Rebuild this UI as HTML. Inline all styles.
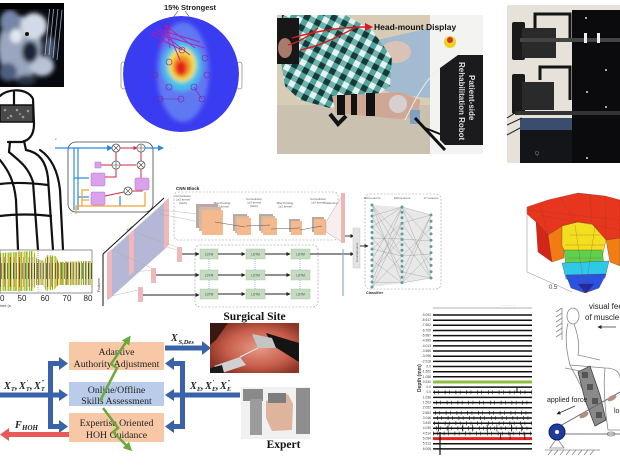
<!DOCTYPE html>
<html><head><meta charset="utf-8">
<style>
html,body{margin:0;padding:0;background:#fff;width:620px;height:465px;overflow:hidden;}
svg{display:block;}
</style></head><body>
<svg width="620" height="465" viewBox="0 0 620 465" xmlns="http://www.w3.org/2000/svg" font-family="Liberation Sans, sans-serif">
<defs>
 <filter id="b1" x="-20%" y="-20%" width="140%" height="140%"><feGaussianBlur stdDeviation="2"/></filter>
 <filter id="b2" x="-20%" y="-20%" width="140%" height="140%"><feGaussianBlur stdDeviation="2"/></filter>
 <pattern id="check" width="12" height="12" patternUnits="userSpaceOnUse" patternTransform="rotate(28)">
   <rect width="12" height="12" fill="#e9f1ef"/>
   <rect width="6" height="12" fill="#2c928c" opacity="0.8"/>
   <rect width="12" height="6" fill="#2c928c" opacity="0.65"/>
   <rect width="6" height="6" fill="#163a38"/>
 </pattern>
 <clipPath id="eegclip"><circle cx="181" cy="74" r="58"/></clipPath>
 <clipPath id="sigclip"><polygon points="0,253 34,251 37,259 44,261 47,255 56,256 58,262 92,261 92,285 58,285 55,289 46,291 43,285 36,285 33,291 0,291"/></clipPath>
 <clipPath id="brainclip"><rect x="0" y="3" width="64" height="84"/></clipPath>
 <clipPath id="surgclip"><rect x="210" y="323" width="89" height="50"/></clipPath>
 <radialGradient id="surgG" cx="0.55" cy="0.5" r="0.6"><stop offset="0" stop-color="#e69a88"/><stop offset="0.6" stop-color="#c8604c"/><stop offset="1" stop-color="#8a3326"/></radialGradient>
 <marker id="ah" markerWidth="4" markerHeight="4" refX="3.5" refY="2" orient="auto" markerUnits="userSpaceOnUse"><path d="M0,0 L4,2 L0,4 z" fill="#222"/></marker>
 <marker id="ahb" markerWidth="6" markerHeight="6" refX="5" refY="3" orient="auto" markerUnits="userSpaceOnUse"><path d="M0,0 L6,3 L0,6 z" fill="#2a8ae0"/></marker>
 <marker id="ahr" markerWidth="4" markerHeight="4" refX="3.5" refY="2" orient="auto" markerUnits="userSpaceOnUse"><path d="M0,0 L4,2 L0,4 z" fill="#d02838"/></marker>
 <marker id="ahg" markerWidth="9" markerHeight="9" refX="6" refY="4.5" orient="auto" markerUnits="userSpaceOnUse"><path d="M0,0 L9,4.5 L0,9 z" fill="#6aaa3a"/></marker>
</defs>

<rect width="620" height="465" fill="#fff"/>

<!-- ===== Brain MRI (top-left) ===== -->
<g clip-path="url(#brainclip)">
 <rect x="0" y="3" width="64" height="84" fill="#07090e"/>
 <g filter="url(#b1)">
  <ellipse cx="20" cy="48" rx="22" ry="32" fill="#9aa6bd"/>
  <ellipse cx="34" cy="26" rx="13" ry="13" fill="#d3dae7"/>
  <ellipse cx="10" cy="22" rx="10" ry="12" fill="#7586a8"/>
  <ellipse cx="42" cy="66" rx="12" ry="10" fill="#b9c3d6"/>
  <ellipse cx="30" cy="52" rx="8" ry="11" fill="#1f2838"/>
  <ellipse cx="8" cy="72" rx="9" ry="9" fill="#4d5f80"/>
  <ellipse cx="16" cy="36" rx="6" ry="7" fill="#e3e8f0"/>
  <ellipse cx="50" cy="48" rx="5" ry="12" fill="#4a5a78"/>
  <ellipse cx="26" cy="80" rx="10" ry="5" fill="#2a3448"/>
 </g>
 <circle cx="27" cy="34" r="2" fill="#111"/>
 <g stroke="#c8d2e4" stroke-width="0.8" opacity="0.8">
  <line x1="50" y1="5" x2="45" y2="55"/><line x1="54" y1="5" x2="49" y2="55"/><line x1="58" y1="8" x2="53" y2="58"/><line x1="62" y1="10" x2="57" y2="60"/>
 </g>
 <rect x="0" y="3" width="64" height="6" fill="#000"/>
</g>

<!-- ===== EEG topoplot ===== -->
<text x="190" y="10" font-size="7.5" font-weight="bold" text-anchor="middle" fill="#222">15% Strongest</text>
<line x1="178" y1="11" x2="172" y2="19" stroke="#444" stroke-width="0.6"/>
<line x1="185" y1="11" x2="191" y2="19" stroke="#444" stroke-width="0.6"/>
<rect x="121" y="62" width="5" height="27" rx="2.5" fill="none" stroke="#888" stroke-width="0.7"/>
<rect x="237" y="62" width="5" height="27" rx="2.5" fill="none" stroke="#888" stroke-width="0.7"/>
<g clip-path="url(#eegclip)">
 <circle cx="181" cy="74" r="58" fill="#3a3cf2"/>
 <g filter="url(#b2)">
  <ellipse cx="183" cy="72" rx="26" ry="50" fill="#6078f2"/>
  <ellipse cx="182" cy="66" rx="20" ry="25" fill="#45c0ea"/>
  <ellipse cx="182" cy="65" rx="14" ry="17" fill="#f3e844"/>
  <ellipse cx="182" cy="66" rx="10" ry="12" fill="#f59a2e"/>
  <ellipse cx="181" cy="68" rx="6" ry="8" fill="#e41c1c"/>
 </g>
 <g stroke="#b01cb0" stroke-width="1" fill="none" opacity="0.9">
  <path d="M165,25 L195,48"/><path d="M165,25 L180,60"/><path d="M152,32 L205,48"/><path d="M150,34 L182,50"/>
  <path d="M166,25 L170,48"/><path d="M172,24 L158,48"/><path d="M160,30 L200,42"/><path d="M155,28 L190,55"/>
 </g>
 <g stroke="#7a22a0" stroke-width="0.6" fill="none">
  <circle cx="166" cy="26" r="3"/><circle cx="182" cy="50" r="3"/><circle cx="169" cy="62" r="3"/>
  <circle cx="205" cy="58" r="3"/><circle cx="169" cy="87" r="3"/><circle cx="194" cy="87" r="3"/>
  <circle cx="160" cy="99" r="3"/><circle cx="181" cy="99" r="3"/><circle cx="202" cy="99" r="3"/>
  <circle cx="207" cy="75" r="3"/><circle cx="155" cy="75" r="3"/>
  <path d="M194,87 L202,99 M181,99 L160,99"/>
 </g>
</g>

<!-- ===== Head drawing ===== -->
<g stroke="#111" stroke-width="2.2" fill="none" stroke-linecap="round">
 <path d="M0,96 C8,88 28,88 33,99 L34,124 C34,134 30,140 22,142 L8,142" fill="#fff"/>
 <path d="M14,92 L14,105"/>
 <path d="M10,142 L9,152"/>
 <path d="M24,141 L26,150 C38,152 46,160 48,178 L53,250"/>
 <path d="M9,152 C18,160 28,166 33,182 L38,250"/>
 <path d="M0,160 C8,170 14,180 16,200 L18,250"/>
 <path d="M0,184 C15,182 32,183 48,185"/>
 <path d="M0,216 C15,214 35,214 51,216"/>
 <path d="M40,150 C52,158 58,172 60,190 L63,250"/>
</g>
<rect x="0" y="105" width="33" height="17" fill="#4a4a4a" stroke="#111" stroke-width="1.5"/>
<g fill="#9a9a9a"><circle cx="5" cy="110" r="1.3"/><circle cx="11" cy="116" r="1.3"/><circle cx="17" cy="110" r="1.3"/><circle cx="23" cy="117" r="1.3"/><circle cx="28" cy="111" r="1.3"/><circle cx="8" cy="118" r="1"/><circle cx="20" cy="114" r="1"/></g>

<!-- ===== LSTM cell ===== -->
<text x="55" y="140" font-size="3" fill="#333">c</text>
<rect x="68" y="142" width="85" height="70" rx="8" fill="#fff" stroke="#444" stroke-width="0.8"/>
<line x1="55" y1="148" x2="112" y2="148" stroke="#2a8ae0" stroke-width="1.3" marker-end="url(#ahb)"/>
<line x1="145" y1="148" x2="163" y2="148" stroke="#2a8ae0" stroke-width="1.3" marker-end="url(#ahb)"/>
<line x1="120" y1="148" x2="137" y2="148" stroke="#d02838" stroke-width="1" marker-end="url(#ahr)"/>
<g stroke="#2a8ae0" stroke-width="1.2" fill="none">
 <path d="M74,148 L74,210"/><path d="M78,148 L78,210"/>
 <path d="M74,178 L89,178"/><path d="M78,197 L89,197"/>
 <path d="M120,206 L120,196"/>
</g>
<g stroke="#f0a030" stroke-width="1.2" fill="none">
 <path d="M76,214 L76,206 L145,206 L145,192"/><path d="M82,206 L82,190 L89,190"/><path d="M82,200 L89,200"/>
</g>
<g stroke="#d02838" stroke-width="1" fill="none">
 <path d="M101,165 L112,165"/><path d="M105,177 L116,177 L116,169"/><path d="M105,196 L124,192"/>
 <path d="M132,191 L142,191 L142,184"/><path d="M141,178 L141,169"/><path d="M116,161 L116,152"/><path d="M120,165 L136,165"/><path d="M141,161 L141,152"/>
</g>
<g fill="#fff" stroke="#444" stroke-width="0.7">
 <circle cx="116" cy="148" r="4"/><circle cx="141" cy="148" r="4"/><circle cx="116" cy="165" r="4"/><circle cx="141" cy="165" r="4"/><circle cx="128" cy="191" r="4"/>
</g>
<g stroke="#444" stroke-width="0.6">
 <path d="M113,145 L119,151 M119,145 L113,151"/><path d="M138,148 L144,148 M141,145 L141,151"/>
 <path d="M113,165 L119,165 M116,162 L116,168"/><path d="M138,162 L144,168 M144,162 L138,168"/><path d="M125,188 L131,194 M131,188 L125,194"/>
</g>
<g fill="#d9a2ea" stroke="#b070cc" stroke-width="0.5">
 <rect x="95" y="162" width="6" height="6"/><rect x="91" y="173" width="14" height="13" rx="1.5"/><rect x="91" y="192" width="14" height="13" rx="1.5"/><rect x="135" y="178" width="14" height="12" rx="1.5"/>
</g>

<!-- ===== Signal plot ===== -->
<rect x="0" y="250" width="92" height="43" fill="#fff" stroke="#666" stroke-width="0.7"/>
<g clip-path="url(#sigclip)">
 <line x1="0" y1="271" x2="92" y2="271" stroke="#e4d43a" stroke-width="42" stroke-dasharray="1 0.8"/>
 <line x1="0" y1="271" x2="92" y2="271" stroke="#3f9c3a" stroke-width="42" stroke-dasharray="0.7 2.6 0.5 1.4"/>
 <line x1="0.5" y1="272" x2="92" y2="272" stroke="#d83028" stroke-width="30" stroke-dasharray="0.6 3.4 0.4 5"/>
 <line x1="1" y1="271" x2="92" y2="271" stroke="#222" stroke-width="16" stroke-dasharray="0.5 2.5"/>
</g>
<g stroke="#c03030" stroke-width="0.5" stroke-dasharray="1 1"><line x1="19" y1="251" x2="19" y2="292"/><line x1="38" y1="251" x2="38" y2="292"/></g>
<g font-size="8" fill="#222" text-anchor="middle">
 <text x="0" y="301">40</text><text x="22" y="301">50</text><text x="45" y="301">60</text><text x="67" y="301">70</text><text x="88" y="301">80</text>
</g>
<text x="0" y="307" font-size="4" fill="#444">ime (s</text>

<!-- ===== CNN / LSTM diagram ===== -->
<polygon points="108,253 167,200 167,247 108,300" fill="#b5b7d6"/>
<polygon points="107,253 112,249 112,296 107,300" fill="#f0b8b8"/>
<polygon points="129,234 134,230 134,272 129,276" fill="#f0b8b8"/>
<polygon points="164,202 169,198 169,245 164,249" fill="#f0b8b8"/>
<line x1="103" y1="254" x2="164" y2="198" stroke="#111" stroke-width="1"/>
<line x1="103" y1="254" x2="103" y2="306" stroke="#111" stroke-width="1"/>
<text x="0" y="0" font-size="3.5" fill="#333" transform="translate(128,232) rotate(-42)">Time</text>
<text x="0" y="0" font-size="3.5" fill="#333" transform="translate(100,292) rotate(-90)">Features</text>
<g stroke="#aaa" stroke-width="0.4" fill="none">
 <path d="M112,296 L138,290 M134,272 L151,270 M167,247 L177,250 M112,250 L151,268 M134,232 L177,247 M160,210 L210,215 M160,214 L210,224"/>
</g>
<rect x="177" y="247" width="5" height="15" fill="#f0b8b8"/>
<rect x="151" y="268" width="5" height="15" fill="#f0b8b8"/>
<rect x="138" y="287" width="5" height="15" fill="#f0b8b8"/>
<g stroke="#222" stroke-width="0.9">
 <line x1="182" y1="254" x2="199" y2="254" marker-end="url(#ah)"/>
 <line x1="156" y1="275" x2="199" y2="275" marker-end="url(#ah)"/>
 <line x1="143" y1="295" x2="199" y2="295" marker-end="url(#ah)"/>
</g>
<text x="176" y="190" font-size="4.5" font-weight="bold" fill="#222">CNN Block</text>
<rect x="174" y="192" width="164" height="48" rx="4" fill="none" stroke="#999" stroke-width="0.6" stroke-dasharray="2 1.5"/>
<g font-size="3" fill="#555" text-anchor="middle">
 <text x="183" y="197">Convolution</text><text x="183" y="200.5">1x3 kernel</text><text x="183" y="204">(tanh)</text>
 <text x="222" y="204">Max-Pooling</text><text x="222" y="207.5">1x2 kernel</text>
 <text x="254" y="200">Convolution</text><text x="254" y="203.5">1x3 kernel</text><text x="254" y="207">(tanh)</text>
 <text x="285" y="204">Max-Pooling</text><text x="285" y="207.5">1x2 kernel</text>
 <text x="318" y="200">Convolution</text><text x="318" y="203.5">1x3 kernel</text>
 <text x="331" y="204">Flattening</text>
</g>
<g>
 <rect x="196" y="204" width="22" height="24" fill="#b8aaa2"/><rect x="199" y="207" width="22" height="24" fill="#d4b8a4"/><rect x="202" y="210" width="21" height="25" fill="#f4b98c"/>
 <rect x="233" y="214" width="14" height="17" fill="#b8aaa2"/><rect x="235" y="216" width="14" height="17" fill="#d4b8a4"/><rect x="237" y="218" width="14" height="17" fill="#f4b98c"/>
 <rect x="259" y="214" width="14" height="17" fill="#b8aaa2"/><rect x="261" y="216" width="14" height="17" fill="#d4b8a4"/><rect x="263" y="218" width="14" height="17" fill="#f4b98c"/>
 <rect x="289" y="219" width="11" height="13" fill="#b8aaa2"/><rect x="291" y="221" width="11" height="14" fill="#f4b98c"/>
 <rect x="312" y="217" width="12" height="15" fill="#b8aaa2"/><rect x="314" y="219" width="12" height="16" fill="#f4b98c"/>
</g>
<g stroke="#555" stroke-width="0.5"><line x1="215" y1="222" x2="245" y2="227"/><line x1="246" y1="226" x2="270" y2="225"/><line x1="271" y1="229" x2="300" y2="228"/><line x1="300" y1="230" x2="322" y2="226"/></g>
<polygon points="326,222 342,196 342,242 326,232" fill="#f7eeee" stroke="#999" stroke-width="0.4"/>
<rect x="341" y="193" width="4" height="50" fill="#efb5b5"/>
<line x1="345" y1="236" x2="354" y2="236" stroke="#222" stroke-width="0.9" marker-end="url(#ah)"/>
<rect x="195" y="245" width="123" height="62" rx="5" fill="none" stroke="#999" stroke-width="0.6" stroke-dasharray="2 1.5"/>
<g fill="#c6dcc1" stroke="#9cbc94" stroke-width="0.4">
 <rect x="200" y="249" width="18" height="10"/><rect x="246" y="249" width="19" height="10"/><rect x="291" y="249" width="19" height="10"/>
 <rect x="200" y="270" width="18" height="10"/><rect x="246" y="270" width="19" height="10"/><rect x="291" y="270" width="19" height="10"/>
 <rect x="200" y="289" width="18" height="10"/><rect x="246" y="289" width="19" height="10"/><rect x="291" y="289" width="19" height="10"/>
</g>
<g font-size="3.2" fill="#446" text-anchor="middle">
 <text x="209" y="255.5">LSTM</text><text x="255.5" y="255.5">LSTM</text><text x="300.5" y="255.5">LSTM</text>
 <text x="209" y="276.5">LSTM</text><text x="255.5" y="276.5">LSTM</text><text x="300.5" y="276.5">LSTM</text>
 <text x="209" y="295.5">LSTM</text><text x="255.5" y="295.5">LSTM</text><text x="300.5" y="295.5">LSTM</text>
</g>
<g stroke="#222" stroke-width="0.9">
 <line x1="218" y1="254" x2="245" y2="254" marker-end="url(#ah)"/><line x1="265" y1="254" x2="290" y2="254" marker-end="url(#ah)"/>
 <line x1="218" y1="275" x2="245" y2="275" marker-end="url(#ah)"/><line x1="265" y1="275" x2="290" y2="275" marker-end="url(#ah)"/>
 <line x1="218" y1="294" x2="245" y2="294" marker-end="url(#ah)"/><line x1="265" y1="294" x2="290" y2="294" marker-end="url(#ah)"/>
 <line x1="310" y1="254" x2="354" y2="254" marker-end="url(#ah)"/>
</g>
<g stroke="#5a8ac0" stroke-width="0.6" stroke-dasharray="1 1">
 <line x1="209" y1="289" x2="209" y2="280"/><line x1="209" y1="270" x2="209" y2="259"/>
 <line x1="255" y1="289" x2="255" y2="280"/><line x1="255" y1="270" x2="255" y2="259"/>
 <line x1="300" y1="289" x2="300" y2="280"/><line x1="300" y1="270" x2="300" y2="259"/>
</g>
<line x1="343" y1="249" x2="343" y2="296" stroke="#8ab0d0" stroke-width="1.2"/>
<rect x="353" y="228" width="7" height="40" fill="#e4e4e4" stroke="#bbb" stroke-width="0.4"/>
<text x="0" y="0" font-size="3" fill="#555" transform="translate(358,262) rotate(-90)">Concatenation</text>
<line x1="360" y1="246" x2="368" y2="246" stroke="#222" stroke-width="0.9" marker-end="url(#ah)"/>
<rect x="365" y="194" width="76" height="95" rx="5" fill="none" stroke="#999" stroke-width="0.6" stroke-dasharray="2 1.5"/>
<g font-size="3" fill="#555" text-anchor="middle"><text x="372" y="199">100 neurons</text><text x="402" y="199">100 neurons</text><text x="431" y="199">17 neurons</text></g>
<text x="366" y="294" font-size="3.8" font-weight="bold" fill="#333">Classifier</text>
<polygon points="372,205 402,207 431,215 431,278 402,283 372,287" fill="#d6d6d6" opacity="0.55"/>
<path stroke="#888" stroke-width="0.3" fill="none" d="M372 205L402 283M372 216L402 272M372 227L402 256M372 238L402 239M372 249L402 223M372 260L402 207M372 271L402 239M372 282L402 207M372 205L402 239M372 287L402 223M372 216L402 207M372 282L402 283M372 238L402 272M372 260L402 283M372 227L402 207M372 249L402 256M372 271L402 223M372 205L402 256M372 287L402 256M402 207L431 278M402 223L431 266M402 239L431 241M402 256L431 228M402 272L431 215M402 283L431 215M402 207L431 241M402 283L431 254M402 223L431 215M402 272L431 278M402 239L431 278M402 256L431 254M402 207L431 215M402 283L431 278"/>
<g fill="#5e9e98">
 <circle cx="372" cy="205" r="1.5"/><circle cx="372" cy="210.5" r="1.5"/><circle cx="372" cy="216" r="1.5"/><circle cx="372" cy="221.5" r="1.5"/><circle cx="372" cy="227" r="1.5"/><circle cx="372" cy="232.5" r="1.5"/><circle cx="372" cy="238" r="1.5"/><circle cx="372" cy="243.5" r="1.5"/><circle cx="372" cy="249" r="1.5"/><circle cx="372" cy="254.5" r="1.5"/><circle cx="372" cy="260" r="1.5"/><circle cx="372" cy="265.5" r="1.5"/><circle cx="372" cy="271" r="1.5"/><circle cx="372" cy="276.5" r="1.5"/><circle cx="372" cy="282" r="1.5"/><circle cx="372" cy="287" r="1.5"/>
 <circle cx="402" cy="207" r="1.5"/><circle cx="402" cy="212.4" r="1.5"/><circle cx="402" cy="217.8" r="1.5"/><circle cx="402" cy="223.2" r="1.5"/><circle cx="402" cy="228.6" r="1.5"/><circle cx="402" cy="234" r="1.5"/><circle cx="402" cy="239.4" r="1.5"/><circle cx="402" cy="244.8" r="1.5"/><circle cx="402" cy="250.2" r="1.5"/><circle cx="402" cy="255.6" r="1.5"/><circle cx="402" cy="261" r="1.5"/><circle cx="402" cy="266.4" r="1.5"/><circle cx="402" cy="271.8" r="1.5"/><circle cx="402" cy="277.2" r="1.5"/><circle cx="402" cy="282.6" r="1.5"/>
 <circle cx="431" cy="215" r="1.5"/><circle cx="431" cy="221.3" r="1.5"/><circle cx="431" cy="227.6" r="1.5"/><circle cx="431" cy="233.9" r="1.5"/><circle cx="431" cy="240.2" r="1.5"/><circle cx="431" cy="246.5" r="1.5"/><circle cx="431" cy="252.8" r="1.5"/><circle cx="431" cy="259.1" r="1.5"/><circle cx="431" cy="265.4" r="1.5"/><circle cx="431" cy="271.7" r="1.5"/><circle cx="431" cy="278" r="1.5"/>
</g>

<!-- ===== Head-mount display photo ===== -->
<rect x="277" y="15" width="206" height="139" fill="#f3f3f1"/>
<rect x="277" y="15" width="153" height="139" fill="#d8ccb6"/>
<rect x="277" y="105" width="153" height="49" fill="#cbc1b0"/>
<polygon points="355,45 430,28 430,98 400,95 368,86" fill="#a3bbd0"/>
<ellipse cx="396" cy="52" rx="15" ry="11" fill="#d9c3b6"/>
<polygon points="282,15 345,15 372,30 392,58 390,86 370,100 330,108 300,100 285,86 279,50" fill="url(#check)"/>
<rect x="277" y="18" width="22" height="46" fill="#171717"/>
<ellipse cx="285" cy="48" rx="7" ry="10" fill="#a87a6a"/>
<polygon points="332,96 400,92 420,100 418,116 400,119 336,113" fill="#cfa796"/>
<rect x="337" y="95" width="8" height="20" fill="#111"/><rect x="351" y="94" width="6" height="21" fill="#111"/><rect x="366" y="93" width="9" height="23" fill="#111"/>
<circle cx="398" cy="104" r="9" fill="#d8cfd0"/>
<path d="M330,114 L338,124 L346,116" stroke="#121212" stroke-width="4" fill="none"/>
<rect x="410" y="110" width="10" height="14" fill="#7fa2c4"/>
<path d="M415,118 L445,150" stroke="#111" stroke-width="3"/>
<path d="M425,128 L455,140" stroke="#111" stroke-width="2"/>
<path d="M405,120 C420,90 430,70 455,60" stroke="#eee" stroke-width="1" fill="none"/>
<polygon points="440,68 458,55 483,55 483,145 445,145 440,140" fill="#1b1b1d"/>
<circle cx="450" cy="42" r="6" fill="#f2d022"/><circle cx="450" cy="40" r="3" fill="#c83828"/>
<text x="0" y="0" font-size="8" font-weight="bold" fill="#dcdcdc" transform="translate(469,75) rotate(90)">Patient-side</text>
<text x="0" y="0" font-size="8" font-weight="bold" fill="#dcdcdc" transform="translate(459,62) rotate(90)">Rehabilitation Robot</text>
<g stroke="#d81c1c" stroke-width="1.4" fill="none">
 <path d="M292,38 C320,30 345,27 366,27"/><path d="M300,50 C325,45 340,35 355,28"/><path d="M288,45 C300,42 310,35 318,28"/>
</g>
<polygon points="365,23 373,27 365,31" fill="#d81c1c"/>
<text x="374" y="30" font-size="8.5" font-weight="bold" fill="#111">Head-mount Display</text>

<!-- ===== Robot photo (top-right) ===== -->
<rect x="507" y="5" width="113" height="158" fill="#e6e2da"/>
<rect x="572" y="10" width="48" height="153" fill="#0b0b0d"/>
<rect x="512" y="22" width="13" height="38" fill="#1a1a1a" rx="2"/>
<rect x="522" y="28" width="34" height="30" fill="#2a2a2a"/>
<path d="M535,28 L535,14 L570,14 L570,40" stroke="#141414" stroke-width="3" fill="none"/>
<rect x="520" y="38" width="100" height="4" fill="#444"/>
<rect x="584" y="33" width="3" height="10" fill="#eee"/><rect x="597" y="33" width="3" height="10" fill="#eee"/>
<rect x="512" y="74" width="13" height="40" fill="#1a1a1a" rx="2"/>
<rect x="522" y="82" width="32" height="28" fill="#2a2a2a"/>
<path d="M540,80 L540,67 L570,67 L570,100" stroke="#141414" stroke-width="3" fill="none"/>
<rect x="515" y="111" width="105" height="4" fill="#333"/>
<rect x="520" y="118" width="52" height="16" fill="#3b4d6c"/>
<rect x="520" y="130" width="52" height="33" fill="#141519"/>
<text x="535" y="155" font-size="5" fill="#888">Q</text>
<g stroke="#222" stroke-width="1"><path d="M507,118 L520,110 M507,125 L522,118 M507,135 L520,128"/></g>
<g fill="#ddd"><circle cx="586" cy="18" r="1"/><circle cx="606" cy="70" r="1"/><circle cx="587" cy="92" r="1"/><circle cx="606" cy="107" r="1"/><circle cx="587" cy="158" r="1"/></g>

<!-- ===== 3D surface ===== -->
<g stroke="#5a2a1a" stroke-width="0.3">
 <polygon points="527,207 548,200 578,193 605,196 620,200 620,238 606,240 592,224 578,222 562,226 548,235 536,222 527,214" fill="#e8361e"/>
 <polygon points="536,222 548,235 552,262 538,252" fill="#d42618"/>
 <polygon points="548,235 562,226 564,258 552,262" fill="#f27c12"/>
 <polygon points="606,240 620,238 620,266 610,262" fill="#f07e14"/>
 <polygon points="562,226 578,222 592,224 606,240 602,258 585,262 568,258 562,246" fill="#f4de20"/>
 <polygon points="564,250 602,250 604,264 585,270 566,266" fill="#5ed04c"/>
 <polygon points="562,263 609,261 605,278 585,284 566,279" fill="#2ec8e8"/>
 <polygon points="566,275 606,274 599,288 585,293 571,288" fill="#2c52e2"/>
 <polygon points="578,284 594,284 586,293" fill="#1a2aa8"/>
</g>
<g stroke="#7a3a20" stroke-width="0.3" opacity="0.7" fill="none">
 <path d="M560,196 L575,222 M590,194 L592,224 M540,204 L548,235 M605,196 L606,240 M527,210 L620,220 M540,215 L620,230"/>
 <path d="M570,235 L600,235 M565,245 L605,245 M568,258 L602,258 M575,225 L585,293 M595,226 L585,293"/>
</g>
<g stroke="#888" stroke-width="0.5"><line x1="527" y1="207" x2="527" y2="272"/><line x1="527" y1="272" x2="572" y2="292"/></g>
<text x="549" y="289" font-size="6" fill="#444">0.5</text>

<!-- ===== Block diagram (bottom-left) ===== -->
<rect x="69" y="342" width="95" height="28" fill="#f8c8a6"/>
<rect x="69" y="382" width="95" height="24" fill="#b9cce9"/>
<rect x="69" y="413" width="95" height="29" fill="#f8c8a6"/>
<g font-family="Liberation Serif, serif" font-size="9.8" fill="#222" text-anchor="middle">
 <text x="116.5" y="355">Adaptive</text><text x="116.5" y="367">Authority Adjustment</text>
 <text x="116.5" y="393">Online/Offline</text><text x="116.5" y="404">Skills Assessment</text>
 <text x="116.5" y="426">Expertise Oriented</text><text x="116.5" y="438">HOH Guidance</text>
</g>
<g fill="#3a62a8">
 <rect x="0" y="392.5" width="50" height="5"/>
 <rect x="48" y="361" width="5" height="68"/>
 <rect x="48" y="361" width="12" height="5"/><polygon points="59,357 68,363.5 59,370"/>
 <rect x="50" y="392.5" width="10" height="5"/><polygon points="59,389 68,395 59,401"/>
 <rect x="48" y="424" width="12" height="5"/><polygon points="59,420 68,426.5 59,433"/>
 <rect x="180" y="361" width="5" height="68"/>
 <rect x="173" y="361" width="12" height="5"/><polygon points="174,357 165,363.5 174,370"/>
 <rect x="173" y="392.5" width="67" height="5"/><polygon points="174,389 165,395 174,401"/>
 <rect x="173" y="424" width="12" height="5"/><polygon points="174,420 165,426.5 174,433"/>
 <rect x="165" y="345.5" width="38" height="5"/><polygon points="202,341 211,348 202,355"/>
</g>
<rect x="8" y="432" width="61" height="5" fill="#e85a5a"/>
<polygon points="9,428 0,434.5 9,441" fill="#e85a5a"/>
<g stroke="#6aaa3a" stroke-width="2.5" fill="none">
 <polyline points="100,401 117,368 111,364 129,338" marker-end="url(#ahg)"/>
 <polyline points="103,408 118,428 113,432 130,449" marker-end="url(#ahg)"/>
</g>
<g font-family="Liberation Serif, serif" font-style="italic" font-weight="bold" fill="#222">
 <text x="4" y="389" font-size="10">X</text><text x="11" y="391" font-size="6">T</text><text x="15" y="389" font-size="10">,</text>
 <text x="19" y="389" font-size="10">X</text><text x="26.5" y="384" font-size="6">′</text><text x="26" y="391" font-size="6">T</text><text x="30" y="389" font-size="10">,</text>
 <text x="34" y="389" font-size="10">X</text><text x="41.5" y="384" font-size="6">″</text><text x="41" y="391" font-size="6">T</text>
 <text x="190" y="389" font-size="10">X</text><text x="197" y="391" font-size="6">E</text><text x="201" y="389" font-size="10">,</text>
 <text x="205" y="389" font-size="10">X</text><text x="212.5" y="384" font-size="6">′</text><text x="212" y="391" font-size="6">E</text><text x="216" y="389" font-size="10">,</text>
 <text x="220" y="389" font-size="10">X</text><text x="227.5" y="384" font-size="6">″</text><text x="227" y="391" font-size="6">E</text>
 <text x="171" y="341" font-size="10">X</text><text x="178.5" y="344" font-size="6.5">S,Des</text>
 <text x="15" y="428" font-size="10">F</text><text x="22" y="430" font-size="7">HOH</text>
</g>

<!-- Surgical site -->
<text x="254.5" y="320" font-family="Liberation Serif, serif" font-weight="bold" font-size="11.5" text-anchor="middle" fill="#111">Surgical Site</text>
<g clip-path="url(#surgclip)">
 <rect x="210" y="323" width="89" height="50" fill="url(#surgG)"/>
 <polygon points="210,323 228,323 216,340 210,345" fill="#3a1812"/>
 <polygon points="266,333 299,343 299,362 272,345" fill="#141414"/>
 <polygon points="252,334 272,338 276,348 258,348" fill="#c4c4c4"/>
 <polygon points="214,366 240,357 246,365 222,373" fill="#d0d0d0"/>
 <polygon points="210,368 222,365 224,373 210,373" fill="#1a1a1a"/>
 <path d="M240,357 L258,348" stroke="#eee" stroke-width="1"/>
</g>
<!-- Expert -->
<rect x="241" y="387" width="69" height="52" fill="#f1f1f1"/>
<rect x="243" y="389" width="20" height="12" fill="#8a8a8a"/>
<rect x="250" y="399" width="12" height="36" fill="#9c9c9c"/>
<polygon points="266,401 288,394 293,404 292,430 272,431 266,418" fill="#deb49c"/>
<rect x="268" y="393" width="18" height="10" fill="#7d7d7d"/>
<rect x="296" y="388" width="14" height="46" fill="#8e8e8e"/>
<text x="283.5" y="448" font-family="Liberation Serif, serif" font-weight="bold" font-size="11.5" text-anchor="middle" fill="#111">Expert</text>

<!-- ===== Depth plot ===== -->
<line x1="433" y1="308" x2="532" y2="308" stroke="#999" stroke-width="0.8"/>
<text x="500" y="306" font-size="3" fill="#888">- - - - - - - - -</text>
<text x="0" y="0" font-size="5" font-weight="bold" fill="#333" transform="translate(421,392) rotate(-90)">Depth (mm)</text>
<g stroke="#111" stroke-width="1.5">
 <line x1="433" y1="315" x2="532" y2="315"/><line x1="433" y1="320.2" x2="532" y2="320.2"/><line x1="433" y1="325.3" x2="532" y2="325.3"/><line x1="433" y1="330.5" x2="532" y2="330.5"/><line x1="433" y1="335.6" x2="532" y2="335.6"/><line x1="433" y1="340.8" x2="532" y2="340.8"/><line x1="433" y1="345.9" x2="532" y2="345.9"/><line x1="433" y1="351" x2="532" y2="351"/><line x1="433" y1="356.2" x2="532" y2="356.2"/><line x1="433" y1="361.4" x2="532" y2="361.4"/><line x1="433" y1="366.5" x2="532" y2="366.5"/><line x1="433" y1="371.7" x2="532" y2="371.7"/><line x1="433" y1="376.8" x2="532" y2="376.8"/>
 <line x1="433" y1="387.1" x2="532" y2="387.1"/><line x1="433" y1="392.3" x2="532" y2="392.3"/><line x1="433" y1="397.4" x2="532" y2="397.4"/><line x1="433" y1="402.6" x2="532" y2="402.6"/><line x1="433" y1="407.7" x2="532" y2="407.7"/><line x1="433" y1="412.9" x2="532" y2="412.9"/><line x1="433" y1="418" x2="532" y2="418"/><line x1="433" y1="423.2" x2="532" y2="423.2"/><line x1="433" y1="428.3" x2="532" y2="428.3"/><line x1="433" y1="433.5" x2="532" y2="433.5"/><line x1="433" y1="443.8" x2="532" y2="443.8"/><line x1="433" y1="448.9" x2="532" y2="448.9"/>
</g>
<line x1="433" y1="382" x2="532" y2="382" stroke="#8cc040" stroke-width="3"/>
<line x1="433" y1="438.6" x2="532" y2="438.6" stroke="#e42020" stroke-width="3"/>
<g stroke="#111" stroke-width="4" stroke-dasharray="0.6 3.7 0.5 6">
 <line x1="434" y1="392.3" x2="532" y2="392.3"/><line x1="436" y1="402.6" x2="532" y2="402.6"/><line x1="435" y1="412.9" x2="532" y2="412.9"/><line x1="437" y1="418" x2="532" y2="418"/><line x1="434" y1="423.2" x2="532" y2="423.2"/><line x1="436" y1="428.3" x2="532" y2="428.3"/><line x1="433" y1="433.5" x2="532" y2="433.5"/>
</g>
<g stroke="#111" stroke-width="7" stroke-dasharray="0.8 9 0.6 14">
 <line x1="438" y1="428" x2="532" y2="428"/><line x1="500" y1="436" x2="532" y2="436"/>
</g>
<line x1="440" y1="432" x2="440" y2="455" stroke="#111" stroke-width="1.2"/>
<line x1="517" y1="387" x2="517" y2="392" stroke="#111" stroke-width="1"/>
<g font-size="3.3" fill="#444" text-anchor="end">
 <text x="431" y="316">-9.093</text><text x="431" y="321">-8.617</text><text x="431" y="326">-7.662</text><text x="431" y="331.5">-6.709</text><text x="431" y="336.5">-5.987</text><text x="431" y="341.5">-4.995</text><text x="431" y="347">-4.013</text><text x="431" y="352">-3.565</text><text x="431" y="357">-3.096</text><text x="431" y="362.5">-2.518</text><text x="431" y="367.5">-2.0</text><text x="431" y="372.5">-1.562</text><text x="431" y="378">-1.058</text><text x="431" y="383">-0.540</text><text x="431" y="388">0.0</text><text x="431" y="393">0.5</text><text x="431" y="398.5">1.038</text><text x="431" y="403.5">1.503</text><text x="431" y="408.5">2.052</text><text x="431" y="414">2.563</text><text x="431" y="419">3.046</text><text x="431" y="424">3.545</text><text x="431" y="429">4.035</text><text x="431" y="434.5">4.514</text><text x="431" y="439.5">5.054</text><text x="431" y="444.5">5.513</text><text x="431" y="450">6.006</text>
</g>

<!-- ===== Leg exoskeleton drawing ===== -->
<g stroke="#888" stroke-width="0.8" fill="none">
 <line x1="562" y1="308" x2="562" y2="340"/>
 <path d="M556,312 L562,308 M556,317 L562,313 M556,322 L562,318 M556,327 L562,323 M556,332 L562,328 M556,337 L562,333"/>
 <ellipse cx="573" cy="316" rx="6" ry="8"/>
 <path d="M568,323 C565,335 566,350 570,365 L605,368 C615,368 620,372 620,378"/>
 <path d="M574,324 C578,335 580,345 578,355 L600,360"/>
 <path d="M570,365 C575,375 590,400 595,425"/>
 <path d="M605,368 C603,390 605,410 608,430 L620,430"/>
 <path d="M565,368 L585,372"/>
 <line x1="545" y1="450" x2="600" y2="450"/>
 <path d="M548,455 L552,450 M554,455 L558,450 M560,455 L564,450 M566,455 L570,450 M572,455 L576,450 M578,455 L582,450 M584,455 L588,450 M590,455 L594,450"/>
 <path d="M550,448 L557,438 L564,448 Z"/>
</g>
<polygon points="578,372 590,366 600,395 606,420 595,426 585,400" fill="#8a8a8a" stroke="#444" stroke-width="0.8"/>
<g fill="#555"><rect x="582" y="372" width="6" height="6"/><rect x="587" y="384" width="6" height="6"/><rect x="592" y="398" width="6" height="6"/><rect x="596" y="412" width="6" height="6"/></g>
<line x1="560" y1="426" x2="620" y2="392" stroke="#666" stroke-width="1"/>
<line x1="565" y1="434" x2="620" y2="434" stroke="#777" stroke-width="1"/>
<ellipse cx="584" cy="415" rx="5" ry="2.5" fill="#b09080" transform="rotate(-30 584 415)"/>
<ellipse cx="612" cy="398" rx="5" ry="2.5" fill="#b09080" transform="rotate(-30 612 398)"/>
<ellipse cx="611" cy="434" rx="4" ry="2" fill="none" stroke="#777" stroke-width="0.7"/>
<circle cx="557" cy="432" r="8" fill="#1e3c9c" stroke="#0d1f5a" stroke-width="1"/>
<circle cx="557" cy="432" r="2" fill="#fff"/>
<text x="589" y="309" font-size="8" fill="#222">visual feedback</text>
<text x="585" y="320" font-size="8" fill="#222">of muscle activation</text>
<line x1="616" y1="327" x2="598" y2="327" stroke="#333" stroke-width="0.8" marker-end="url(#ah)"/>
<text x="547" y="402" font-size="7" fill="#222">applied force</text>
<line x1="575" y1="406" x2="557" y2="414" stroke="#333" stroke-width="0.8" marker-end="url(#ah)"/>
<text x="614" y="413" font-size="7" fill="#222">load</text>
</svg>
</body></html>
